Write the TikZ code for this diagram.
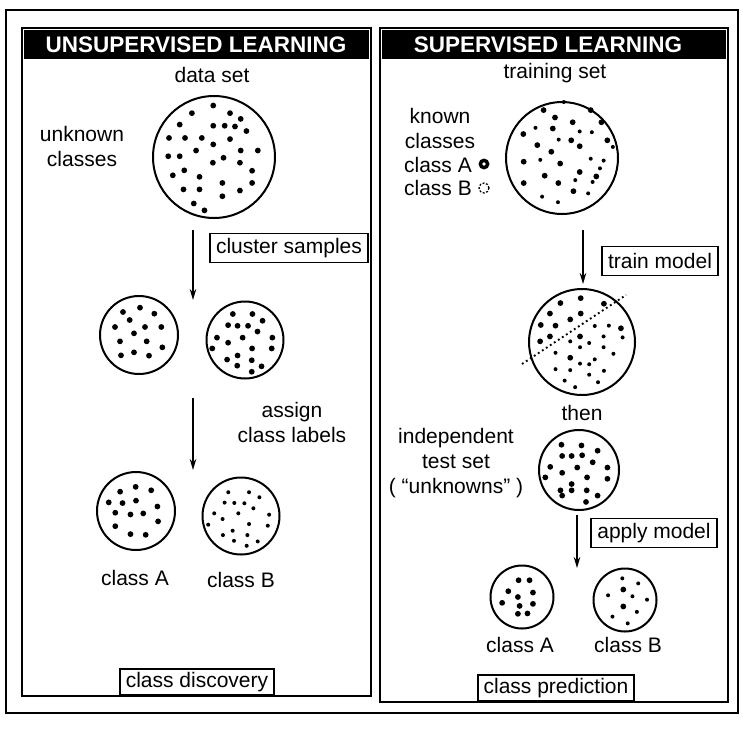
\documentclass[tikz,border=0pt]{standalone}
\usepackage{fontspec}
\setmainfont{Liberation Sans}
\usetikzlibrary{arrows.meta}
\newcommand\mydots[7]{%
  \foreach \px/\py in {#7} \fill ({#1+(\px-#4)*#3/#6},{#2+(\py-#5)*#3/#6}) circle (2.9pt);}
\newcommand\mymarks[7]{%
  \foreach \px/\py in {#7} \fill ({#1+(\px-#4)*#3/#6},{#2+(\py-#5)*#3/#6}) circle (2pt);}
\begin{document}
\begin{tikzpicture}[x=1pt,y=-1pt,
  lbl/.style={font=\fontsize{21}{25}\selectfont, inner sep=0pt, align=center},
  hdr/.style={text=white, font=\bfseries\fontsize{22.5}{26}\selectfont, inner sep=0pt},
  circ/.style={draw, circle, line width=2pt, inner sep=0pt},
  lbox/.style={draw, line width=1.8pt, font=\fontsize{21}{25}\selectfont, inner xsep=6pt, inner ysep=0pt, minimum height=29pt},
  arr/.style={line width=1.7pt, -{Stealth[length=11pt,width=6.5pt]}},
  panel/.style={draw, line width=2pt}]
\useasboundingbox (0,0) rectangle (743,731);
\fill[white] (0,0) rectangle (743,731);
% frames
\draw[line width=2.4pt] (6,10) rectangle (738,713);
\draw[panel] (22,28) rectangle (371,696);
\draw[panel] (380,28) rectangle (728,702);
\fill (24,30) rectangle (369,59);
\fill (382,30) rectangle (726,59);
\node[hdr] (h1) at (196,45) {UNSUPERVISED LEARNING};
\node[hdr] (h2) at (548,45) {SUPERVISED LEARNING};
% ---------- left panel ----------
\node[lbl] (ds) at (212,75) {data set};
\node[lbl] (unk) at (82,146) {unknown\\classes};
\node[circ, minimum size=122pt] (data) at (214,157) {};
\mydots{214}{157}{61}{290}{230}{160}{288/95, 232/115, 332/115, 360/130, 200/145, 288/148, 318/148, 345/150, 375/162, 172/180, 214/180, 258/180, 332/183, 288/197, 243/213, 360/213, 405/213, 170/228, 200/228, 315/232, 287/245, 358/245, 212/265, 390/266, 182/278, 252/282, 312/298, 390/298, 210/315, 252/315, 358/318, 312/333, 237/352, 265/370}
\coordinate (a1s) at (193,230);
\coordinate (a1e) at (193,300);
\draw[arr] (a1s) -- (a1e);
\node[lbox] (clu) at (289,248) {cluster samples};
\node[circ, minimum size=78pt] (m1) at (139,335) {};
\mydots{139}{335}{39}{178}{206}{117}{130/137, 181/124, 224/142, 150/161, 106/182, 196/182, 245/182, 163/201, 121/225, 201/225, 248/243, 124/267, 163/258, 208/268}
\node[circ, minimum size=77pt] (m2) at (245,340) {};
\mydots{245}{340}{38.5}{496}{212}{114}{460/135, 518/135, 548/155, 446/168, 474/170, 505/170, 533/187, 413/205, 446/220, 489/205, 577/205, 399/237, 517/237, 575/237, 474/258, 443/270, 516/272, 473/288, 545/290, 516/306}
\coordinate (a2s) at (193,398);
\coordinate (a2e) at (193,470);
\draw[arr] (a2s) -- (a2e);
\node[lbl] (asg) at (292,422) {assign\\class labels};
\node[circ, minimum size=78pt] (la) at (136,511) {};
\mydots{136}{511}{39}{108}{153}{113}{62/97, 107/83, 152/93, 29/128, 69/130, 108/123, 48/158, 92/163, 129/160, 170/140, 48/197, 172/183, 92/220, 136/222}
\node[circ, minimum size=77pt] (lb) at (241,516) {};
\mymarks{241}{516}{38.5}{423}{156}{115}{385/85, 447/85, 478/100, 374/116, 403/117, 433/118, 460/133, 343/148, 415/148, 507/152, 368/165, 447/180, 325/182, 503/185, 398/200, 369/213, 442/213, 402/230, 473/232, 440/245}
\node[lbl] (lat) at (135,578) {class A};
\node[lbl] (lbt) at (241,580) {class B};
\node[lbox, anchor=south, minimum height=26pt] (disc) at (197,696) {class discovery};
% ---------- right panel ----------
\node[lbl] (ts) at (555,73) {training set};
\node[lbl] (kn) at (440,128) {known\\classes};
\node[lbl, anchor=east] (ca) at (472,165) {class A};
\node[lbl, anchor=east] (cb) at (472,188) {class B};
\fill (484,164) circle (5.5pt);
\fill[white] (484,164) circle (1.8pt);
\draw[line width=1.3pt, dash pattern=on 2pt off 1.6pt] (484,188) circle (5pt);
\node[circ, minimum size=112pt] (tr) at (562,158) {};
\mydots{562}{158}{56}{607}{230}{152}{557/100, 685/100, 588/120, 636/133, 714/133, 582/150, 502/165, 632/182, 730/182, 540/195, 655/198, 578/213, 503/240, 602/245, 655/268, 560/278, 700/280, 503/298, 597/298, 638/320}
\mymarks{562}{158}{56}{607}{230}{152}{612/78, 535/148, 655/158, 688/160, 598/180, 745/200, 685/232, 720/237, 548/235, 710/258, 643/290, 690/295, 678/326, 553/335, 596/350}
\coordinate (a3s) at (583,230);
\coordinate (a3e) at (583,284);
\draw[arr] (a3s) -- (a3e);
\node[lbox] (trm) at (660,261) {train model};
\node[circ, minimum size=106pt] (md) at (582,342) {};
\mydots{582}{342}{53}{366}{282}{162}{300/163, 362/148, 433/165, 268/195, 330/213, 362/195, 240/230, 285/232, 268/265, 238/280, 485/240, 330/330, 360/265}
\mymarks{582}{342}{53}{366}{282}{162}{405/233, 448/232, 490/268, 330/280, 388/285, 432/265, 285/315, 360/298, 432/298, 462/318, 360/348, 405/335, 388/350, 285/365, 330/368, 388/382, 433/370, 313/400, 345/420, 415/405}
\coordinate (d1) at (522,364);
\coordinate (d2) at (626,295);
\draw[line width=1.9pt, dash pattern=on 1.8pt off 3pt] (d1) -- (d2);
\node[lbl] (then) at (582,413) {then};
\node[lbl] (ind) at (456,463) {independent\\test set\\( “unknowns” )};
\node[circ, minimum size=80pt] (test) at (579,470) {};
\mydots{579}{470}{40}{633}{112}{114}{583/40, 640/42, 686/57, 585/72, 612/72, 642/70, 672/90, 551/103, 628/105, 714/105, 585/120, 656/133, 537/133, 714/137, 612/152, 580/170, 612/170, 655/170, 585/185, 686/185, 653/203}
\coordinate (a4s) at (577,515);
\coordinate (a4e) at (577,568);
\draw[arr] (a4s) -- (a4e);
\node[lbox] (app) at (654,533) {apply model};
\node[circ, minimum size=63pt] (ra) at (522,597) {};
\mydots{522}{597}{31.5}{460}{497}{92}{450/448, 482/448, 420/480, 448/497, 492/484, 402/514, 453/523, 492/517, 448/546, 476/545}
\node[circ, minimum size=63pt] (rb) at (625,600) {};
\mydots{625}{600}{31.5}{765}{501}{93}{760/470, 760/520}
\mymarks{625}{600}{31.5}{765}{501}{93}{757/437, 804/452, 715/487, 787/490, 830/500, 800/536, 728/550, 773/570}
\node[lbl] (rat) at (520,645) {class A};
\node[lbl] (rbt) at (628,645) {class B};
\node[lbox, anchor=south, minimum height=26pt] (pred) at (556,702) {class prediction};
\end{tikzpicture}
\end{document}
